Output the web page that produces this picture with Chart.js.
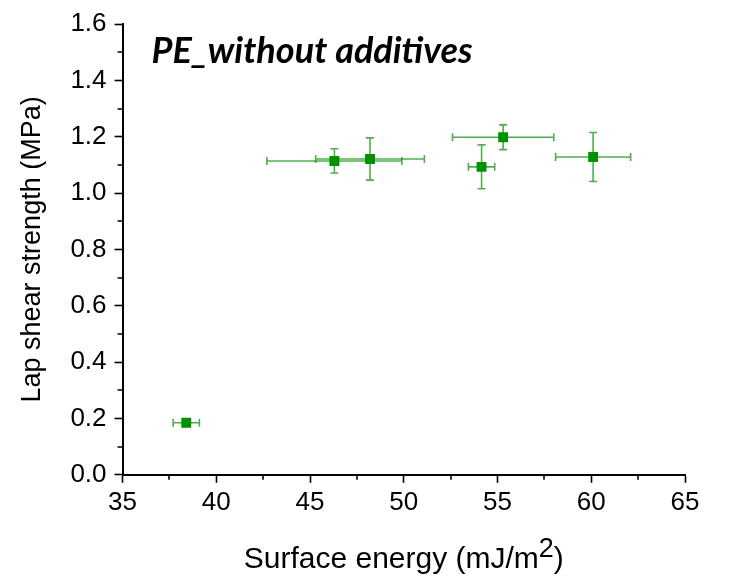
<!DOCTYPE html>
<html>
<head>
<meta charset="utf-8">
<script src="https://cdn.jsdelivr.net/npm/chart.js@4"></script>
<style>
  html, body { margin: 0; padding: 0; background: #fff; }
  #wrap { width: 730px; height: 584px; }
</style>
</head>
<body>
<div id="wrap"><canvas id="chart" width="730" height="584"></canvas></div>
<script>
// surface energy (mJ/m2) and lap shear strength (MPa)
const energy    = [38.4, 46.3, 48.2, 54.15, 55.3, 60.1];
const energyErr = [0.7, 3.6, 2.9, 0.7, 2.7, 2.0];
const strength    = [0.185, 1.114, 1.121, 1.093, 1.198, 1.128];
const strengthErr = [0.0, 0.043, 0.075, 0.078, 0.044, 0.087];

const xTicks = [35, 40, 45, 50, 55, 60, 65];
const yTicks = [0.0, 0.2, 0.4, 0.6, 0.8, 1.0, 1.2, 1.4, 1.6];
const chartLabel = 'PE_without additives';
const xTitle = ['Surface energy (mJ/m', '2', ')'];
const yTitle = 'Lap shear strength (MPa)';

const green = '#009100';
const errColor = 'rgba(20,145,20,0.75)';
const family = '"Liberation Sans", Arial, sans-serif';

const points = energy.map((x, i) => ({ x, y: strength[i], xe: energyErr[i], ye: strengthErr[i] }));

// error bars, drawn under the markers
const errorBars = {
  id: 'errorBars',
  beforeDatasetsDraw(chart) {
    const { ctx, scales: { x, y } } = chart;
    const cap = 4;
    ctx.save();
    ctx.strokeStyle = errColor;
    ctx.lineWidth = 1.6;
    points.forEach(p => {
      const px = x.getPixelForValue(p.x), py = y.getPixelForValue(p.y);
      if (p.xe) {
        const x0 = x.getPixelForValue(p.x - p.xe), x1 = x.getPixelForValue(p.x + p.xe);
        ctx.beginPath();
        ctx.moveTo(x0, py); ctx.lineTo(x1, py);
        ctx.moveTo(x0, py - cap); ctx.lineTo(x0, py + cap);
        ctx.moveTo(x1, py - cap); ctx.lineTo(x1, py + cap);
        ctx.stroke();
      }
      if (p.ye) {
        const y0 = y.getPixelForValue(p.y - p.ye), y1 = y.getPixelForValue(p.y + p.ye);
        ctx.beginPath();
        ctx.moveTo(px, y0); ctx.lineTo(px, y1);
        ctx.moveTo(px - cap, y0); ctx.lineTo(px + cap, y0);
        ctx.moveTo(px - cap, y1); ctx.lineTo(px + cap, y1);
        ctx.stroke();
      }
    });
    ctx.restore();
  }
};

// minor ticks, x-axis title with a raised 2, and the plot label
const extras = {
  id: 'extras',
  afterDraw(chart) {
    const { ctx, chartArea, scales: { x, y } } = chart;
    ctx.save();
    ctx.strokeStyle = '#000';
    ctx.lineWidth = 1.6;
    ctx.beginPath();
    for (let i = 0; i < xTicks.length - 1; i++) {
      const px = Math.round(x.getPixelForValue((xTicks[i] + xTicks[i + 1]) / 2));
      ctx.moveTo(px, chartArea.bottom); ctx.lineTo(px, chartArea.bottom + 5);
    }
    for (let i = 0; i < yTicks.length - 1; i++) {
      const py = Math.round(y.getPixelForValue((yTicks[i] + yTicks[i + 1]) / 2));
      ctx.moveTo(chartArea.left, py); ctx.lineTo(chartArea.left - 5, py);
    }
    ctx.stroke();

    ctx.fillStyle = '#000';
    ctx.textBaseline = 'alphabetic';
    const main = '30px ' + family, sup = '27px ' + family;
    ctx.font = main;
    const w0 = ctx.measureText(xTitle[0]).width, w2 = ctx.measureText(xTitle[2]).width;
    ctx.font = sup;
    const w1 = ctx.measureText(xTitle[1]).width;
    let tx = (chartArea.left + chartArea.right) / 2 - (w0 + w1 + w2) / 2;
    const base = chartArea.bottom + 93;
    ctx.font = main; ctx.fillText(xTitle[0], tx, base); tx += w0;
    ctx.font = sup;  ctx.fillText(xTitle[1], tx, base - 11); tx += w1;
    ctx.font = main; ctx.fillText(xTitle[2], tx, base);

    ctx.font = 'italic bold 36px Lato, "Open Sans", sans-serif';
    ctx.fillText(chartLabel, chartArea.left + 29, chartArea.top + 39);
    ctx.restore();
  }
};

const tickFont = { family, size: 26 };

new Chart(document.getElementById('chart'), {
  type: 'scatter',
  data: {
    datasets: [{
      data: points,
      pointStyle: 'rect',
      pointRadius: 7,
      pointHoverRadius: 7,
      backgroundColor: green,
      borderColor: green,
      borderWidth: 0
    }]
  },
  options: {
    responsive: false,
    animation: false,
    events: [],
    layout: { padding: { left: 16, right: 45, top: 24, bottom: 62 } },
    plugins: { legend: { display: false }, tooltip: { enabled: false } },
    scales: {
      x: {
        type: 'linear',
        min: 35, max: 65,
        afterBuildTicks: s => { s.ticks = xTicks.map(v => ({ value: v })); },
        ticks: { color: '#000', font: tickFont, padding: 4, maxRotation: 0 },
        grid: { display: true, drawOnChartArea: false, drawTicks: true, tickLength: 8, tickWidth: 1.6, tickColor: '#000' },
        border: { display: true, color: '#000', width: 2 }
      },
      y: {
        type: 'linear',
        min: 0, max: 1.6,
        afterBuildTicks: s => { s.ticks = yTicks.map(v => ({ value: v })); },
        ticks: { color: '#000', font: tickFont, padding: 8, callback: v => Number(v).toFixed(1) },
        grid: { display: true, drawOnChartArea: false, drawTicks: true, tickLength: 8, tickWidth: 1.6, tickColor: '#000' },
        border: { display: true, color: '#000', width: 2 },
        title: { display: true, text: yTitle, color: '#000', font: { family, size: 27 }, padding: { top: 0, bottom: 14 } }
      }
    }
  },
  plugins: [errorBars, extras]
});
</script>
</body>
</html>
